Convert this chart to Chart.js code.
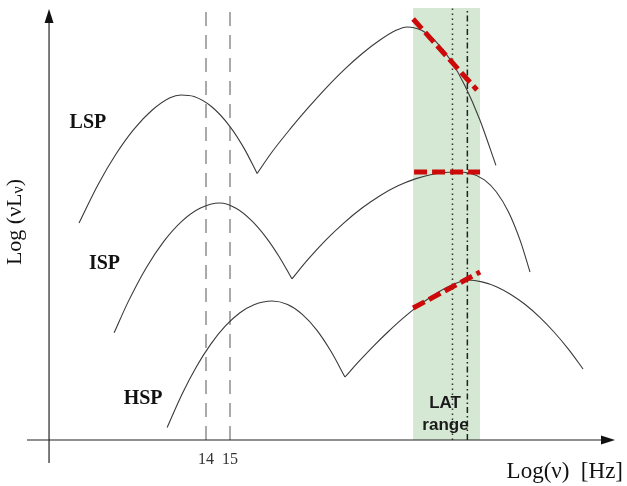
<!DOCTYPE html>
<html>
<head>
<meta charset="utf-8">
<script src="https://cdn.jsdelivr.net/npm/chart.js@4.4.1/dist/chart.umd.min.js"></script>
<style>
  html, body { margin: 0; padding: 0; background: #fff; }
  #wrap { width: 627px; height: 486px; }
</style>
</head>
<body>
<div id="wrap"><canvas id="sed"></canvas></div>
<script>
// Schematic SED humps, x = log(nu) [Hz], y = log(nu L_nu) (arbitrary units)
// each class: synchrotron hump + inverse-Compton hump, sharing the dip point
var lspSyncX = [8.71, 9.5, 10.25, 11.0, 11.75, 12.5, 12.96, 13.5, 14.25, 15.0, 15.6, 16.13];
var lspSyncY = [18.08, 21.27, 23.83, 25.91, 27.48, 28.52, 28.75, 28.62, 27.75, 26.12, 24.26, 22.21];
var lspIcX = [16.13, 16.75, 17.5, 18.25, 19.0, 19.75, 20.5, 21.25, 21.9, 22.38, 23.0, 23.6, 24.2, 24.8, 25.4, 26.08];
var lspIcY = [22.21, 24.0, 25.9, 27.67, 29.33, 30.85, 32.19, 33.33, 34.12, 34.42, 34.12, 33.16, 31.62, 29.48, 26.73, 22.89];

var ispSyncX = [10.17, 10.75, 11.5, 12.25, 13.0, 13.75, 14.58, 15.25, 15.9, 16.5, 17.05, 17.58];
var ispSyncY = [8.93, 11.49, 14.32, 16.57, 18.24, 19.31, 19.75, 19.31, 18.28, 16.89, 15.27, 13.43];
var ispIcX = [17.58, 18.25, 19.0, 19.75, 20.5, 21.25, 22.0, 22.75, 23.5, 24.38, 25.0, 25.6, 26.1, 26.6, 27.1, 27.5];
var ispIcY = [13.43, 15.05, 16.68, 18.1, 19.33, 20.36, 21.18, 21.78, 22.17, 22.33, 22.23, 21.68, 20.67, 19.02, 16.57, 14.0];

var hspSyncX = [12.38, 13.0, 13.6, 14.2, 14.8, 15.4, 16.0, 16.75, 17.4, 18.0, 18.6, 19.2, 19.79];
var hspSyncY = [1.04, 3.82, 6.11, 7.99, 9.48, 10.58, 11.27, 11.58, 11.29, 10.49, 9.2, 7.41, 5.25];
var hspIcX = [19.79, 20.4, 21.0, 21.6, 22.2, 22.8, 23.4, 24.0, 24.5, 24.92, 25.5, 26.1, 26.7, 27.3, 27.9, 28.5, 29.1, 29.71];
var hspIcY = [5.25, 6.61, 7.87, 9.04, 10.13, 11.11, 11.96, 12.68, 13.13, 13.33, 13.18, 12.78, 12.13, 11.29, 10.24, 9.0, 7.57, 5.92];

// LAT power-law slopes (red dashed)
var latLspX = [22.63, 25.29];
var latLspY = [35.08, 29.17];
var latIspX = [22.67, 25.42];
var latIspY = [22.33, 22.33];
var latHspX = [22.63, 25.42];
var latHspY = [11.0, 14.0];

// LAT band and marker lines
var latBand = [22.63, 25.42];
var latDotted = 24.27;
var latDashDot = 24.89;
var opticalTicks = [14, 15];

var yTop = 36;

function pts(xs, ys) {
    return xs.map(function (x, i) {
        return {x: x, y: ys[i]};
    });
}

function vline(x) {
    return [{x: x, y: 0}, {x: x, y: yTop}];
}

var curveStyle = {
    borderColor: '#3a3a3a',
    borderWidth: 1.1,
    pointRadius: 0,
    fill: false,
    cubicInterpolationMode: 'monotone'
};

var redStyle = {
    borderColor: '#cc0a0a',
    borderWidth: 5,
    borderDash: [13, 5],
    pointRadius: 0,
    fill: false
};

var datasets = [
    Object.assign({label: 'LAT LSP', data: pts(latLspX, latLspY)}, redStyle),
    Object.assign({label: 'LAT ISP', data: pts(latIspX, latIspY)}, redStyle),
    Object.assign({label: 'LAT HSP', data: pts(latHspX, latHspY)}, redStyle),
    Object.assign({label: 'LSP sync', data: pts(lspSyncX, lspSyncY)}, curveStyle),
    Object.assign({label: 'LSP IC', data: pts(lspIcX, lspIcY)}, curveStyle),
    Object.assign({label: 'ISP sync', data: pts(ispSyncX, ispSyncY)}, curveStyle),
    Object.assign({label: 'ISP IC', data: pts(ispIcX, ispIcY)}, curveStyle),
    Object.assign({label: 'HSP sync', data: pts(hspSyncX, hspSyncY)}, curveStyle),
    Object.assign({label: 'HSP IC', data: pts(hspIcX, hspIcY)}, curveStyle),
    {label: 'dotted', data: vline(latDotted), borderColor: '#333', borderWidth: 1.5, borderDash: [1.5, 3.5], pointRadius: 0, fill: false},
    {label: 'dashdot', data: vline(latDashDot), borderColor: '#222', borderWidth: 1.5, borderDash: [6, 3, 1.5, 3], pointRadius: 0, fill: false},
    {label: 'nu14', data: vline(opticalTicks[0]), borderColor: '#555', borderWidth: 1, borderDash: [14, 9], pointRadius: 0, fill: false},
    {label: 'nu15', data: vline(opticalTicks[1]), borderColor: '#555', borderWidth: 1, borderDash: [14, 9], pointRadius: 0, fill: false},
    {label: 'band', data: [{x: latBand[0], y: yTop}, {x: latBand[1], y: yTop}], borderWidth: 0, pointRadius: 0,
        backgroundColor: '#d5e8d4', fill: 'origin', order: 100}
];

// axes with arrows + text labels
var overlay = {
    id: 'overlay',
    afterDraw: function (chart) {
        var ctx = chart.ctx;
        var xs = chart.scales.x, ys = chart.scales.y;
        var y0 = ys.getPixelForValue(0);
        var ax = xs.getPixelForValue(7.46);

        ctx.save();
        ctx.strokeStyle = '#222';
        ctx.fillStyle = '#111';
        ctx.lineWidth = 1.2;

        // x axis
        ctx.beginPath();
        ctx.moveTo(27, y0);
        ctx.lineTo(604, y0);
        ctx.stroke();
        ctx.beginPath();
        ctx.moveTo(615, y0);
        ctx.lineTo(601, y0 - 4.5);
        ctx.lineTo(601, y0 + 4.5);
        ctx.closePath();
        ctx.fill();

        // y axis
        ctx.beginPath();
        ctx.moveTo(ax, 463);
        ctx.lineTo(ax, 20);
        ctx.stroke();
        ctx.beginPath();
        ctx.moveTo(ax, 9);
        ctx.lineTo(ax - 4.5, 23);
        ctx.lineTo(ax + 4.5, 23);
        ctx.closePath();
        ctx.fill();

        // class labels
        ctx.fillStyle = '#111';
        ctx.textAlign = 'center';
        ctx.textBaseline = 'middle';
        ctx.font = 'bold 20px "Liberation Serif"';
        ctx.fillText('LSP', xs.getPixelForValue(9.08), ys.getPixelForValue(26.4));
        ctx.fillText('ISP', xs.getPixelForValue(9.77), ys.getPixelForValue(14.67));
        ctx.fillText('HSP', xs.getPixelForValue(11.38), ys.getPixelForValue(3.42));

        ctx.font = 'bold 17px "Liberation Sans"';
        ctx.fillStyle = '#1a1a1a';
        ctx.fillText('LAT', xs.getPixelForValue(23.96), ys.getPixelForValue(3.08));
        ctx.fillText('range', xs.getPixelForValue(23.98), ys.getPixelForValue(1.25));

        // axis titles
        ctx.fillStyle = '#111';
        ctx.font = '23px "Liberation Serif"';
        ctx.textAlign = 'right';
        ctx.fillText('Log(\u03bd)  [Hz]', 623, 472);

        ctx.translate(15, 222);
        ctx.rotate(-Math.PI / 2);
        var main = 'Log (\u03bdL';
        var sub = '\u03bd';
        ctx.font = '22px "Liberation Serif"';
        var w1 = ctx.measureText(main).width;
        var w3 = ctx.measureText(')').width;
        ctx.font = '16px "Liberation Serif"';
        var w2 = ctx.measureText(sub).width;
        var start = -(w1 + w2 + w3) / 2;
        ctx.textAlign = 'left';
        ctx.font = '22px "Liberation Serif"';
        ctx.fillText(main, start, 0);
        ctx.font = '16px "Liberation Serif"';
        ctx.fillText(sub, start + w1, 4);
        ctx.font = '22px "Liberation Serif"';
        ctx.fillText(')', start + w1 + w2, 0);
        ctx.restore();
    }
};

new Chart(document.getElementById('sed'), {
    type: 'line',
    data: {datasets: datasets},
    options: {
        responsive: true,
        maintainAspectRatio: false,
        animation: false,
        layout: {
            padding: {left: 38, right: 13, top: 8, bottom: 0}
        },
        plugins: {
            legend: {display: false},
            tooltip: {enabled: false}
        },
        scales: {
            x: {
                type: 'linear',
                min: 7,
                max: 31,
                grid: {display: false, drawTicks: false},
                border: {display: false},
                afterBuildTicks: function (scale) {
                    scale.ticks = opticalTicks.map(function (v) {
                        return {value: v};
                    });
                },
                afterFit: function (scale) {
                    scale.height = 46;
                },
                ticks: {
                    autoSkip: false,
                    maxRotation: 0,
                    padding: 10,
                    color: '#333',
                    font: {family: '"Liberation Serif"', size: 16}
                }
            },
            y: {
                type: 'linear',
                display: false,
                min: 0,
                max: yTop
            }
        }
    },
    plugins: [overlay]
});
</script>
</body>
</html>
